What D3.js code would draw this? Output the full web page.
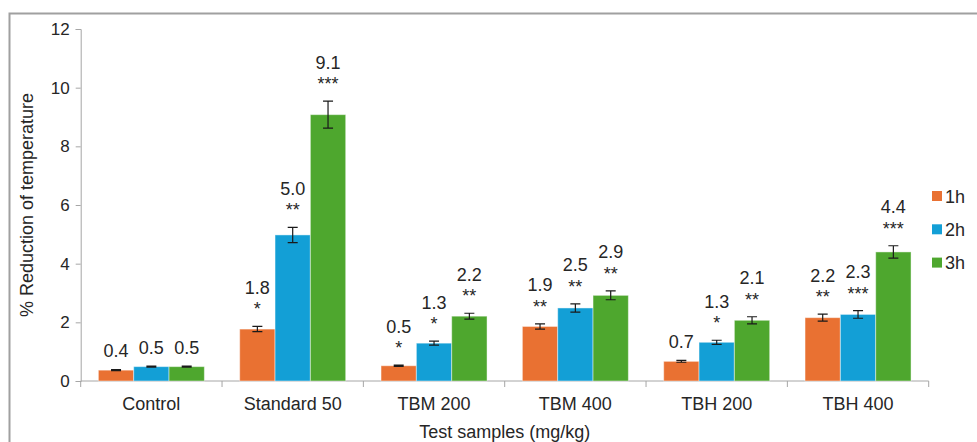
<!DOCTYPE html>
<html>
<head>
<meta charset="utf-8">
<script src="https://cdn.jsdelivr.net/npm/d3@7/dist/d3.min.js"></script>
<style>
  html, body { margin: 0; padding: 0; background: #fff; }
  svg { display: block; font-family: "Liberation Sans", Arial, sans-serif; }
</style>
</head>
<body>
<svg id="chart" width="977" height="442"></svg>
<script>
// Test groups and time points
const categories = ["Control", "Standard 50", "TBM 200", "TBM 400", "TBH 200", "TBH 400"];
const seriesNames = ["1h", "2h", "3h"];

// % reduction of temperature (mean) per time point
const values1h = [0.37, 1.77, 0.52, 1.86, 0.67, 2.16];
const values2h = [0.49, 4.98, 1.29, 2.49, 1.32, 2.27];
const values3h = [0.49, 9.08, 2.21, 2.92, 2.07, 4.40];

// Standard error
const err1h = [0.02, 0.09, 0.02, 0.09, 0.03, 0.12];
const err2h = [0.02, 0.26, 0.07, 0.14, 0.07, 0.13];
const err3h = [0.02, 0.46, 0.10, 0.15, 0.12, 0.21];

// Significance marks
const sig1h = ["", "*", "*", "**", "", "**"];
const sig2h = ["", "**", "*", "**", "*", "***"];
const sig3h = ["", "***", "**", "**", "**", "***"];

const yTicks = [0, 2, 4, 6, 8, 10, 12];
const colors = ["#E97132", "#139FD6", "#4EA72E"];

const valueSets = [values1h, values2h, values3h];
const errSets = [err1h, err2h, err3h];
const sigSets = [sig1h, sig2h, sig3h];

const svg = d3.select("#chart");
const textColor = "#262626";
const axisColor = "#A6A6A6";
const fmt = d3.format(".1f");

// outer frame
svg.append("rect")
  .attr("x", 9.5).attr("y", 13.5)
  .attr("width", 1000).attr("height", 500)
  .attr("fill", "none")
  .attr("stroke", "#A0A0A0")
  .attr("stroke-width", 2);

const plotLeft = 80.7, plotRight = 928.7, plotTop = 29, plotBottom = 381;

const x0 = d3.scaleBand().domain(categories).range([plotLeft, plotRight]).padding(0);
const groupW = x0.bandwidth() * 0.75;
const x1 = d3.scaleBand().domain(seriesNames).range([0, groupW]).padding(0);
const y = d3.scaleLinear().domain([0, 12]).range([plotBottom, plotTop]);

// y axis
const yAxis = svg.append("g").attr("transform", `translate(${plotLeft},0)`)
  .call(d3.axisLeft(y).tickValues(yTicks).tickSize(5).tickPadding(6).tickFormat(d3.format("d")));
yAxis.select(".domain").attr("stroke", axisColor);
yAxis.selectAll(".tick line").attr("stroke", axisColor);
yAxis.selectAll(".tick text").attr("fill", textColor).attr("font-size", 17)
  .attr("font-family", "Liberation Sans, Arial, sans-serif");

// x axis with category dividers
const xAxisG = svg.append("g").attr("transform", `translate(0,${plotBottom})`);
xAxisG.append("line").attr("x1", plotLeft).attr("x2", plotRight)
  .attr("y1", 0).attr("y2", 0).attr("stroke", axisColor);
const dividers = categories.map(c => x0(c)).concat([x0(categories[categories.length - 1]) + x0.bandwidth()]);
xAxisG.selectAll("line.div").data(dividers).join("line").attr("class", "div")
  .attr("x1", d => d).attr("x2", d => d).attr("y1", 0).attr("y2", 6)
  .attr("stroke", axisColor);
xAxisG.selectAll("text.cat").data(categories).join("text").attr("class", "cat")
  .attr("x", d => x0(d) + x0.bandwidth() / 2).attr("y", 29)
  .attr("text-anchor", "middle").attr("font-size", 18).attr("fill", textColor)
  .text(d => d);

// bars, error bars, labels
const groups = svg.append("g").selectAll("g").data(categories).join("g")
  .attr("transform", d => `translate(${x0(d) + (x0.bandwidth() - groupW) / 2},0)`);

seriesNames.forEach((s, si) => {
  const vals = valueSets[si], errs = errSets[si], sigs = sigSets[si];
  groups.append("rect")
    .attr("x", x1(s)).attr("width", x1.bandwidth())
    .attr("y", (d, i) => y(vals[i])).attr("height", (d, i) => plotBottom - y(vals[i]))
    .attr("fill", colors[si])
    .attr("stroke", "rgba(255,255,255,0.45)").attr("stroke-width", 1);

  const cx = x1(s) + x1.bandwidth() / 2;
  // error bar
  groups.append("path")
    .attr("d", (d, i) => {
      const t = y(vals[i] + errs[i]), b = y(vals[i] - errs[i]);
      return `M${cx - 5},${t}H${cx + 5}M${cx},${t}V${b}M${cx - 5},${b}H${cx + 5}`;
    })
    .attr("stroke", "#1a1a1a").attr("stroke-width", 1.2).attr("fill", "none");

  // significance stars
  groups.append("text")
    .attr("x", cx)
    .attr("y", (d, i) => y(vals[i] + errs[i]) - 21 + 10)
    .attr("text-anchor", "middle").attr("font-size", 18).attr("fill", textColor)
    .text((d, i) => sigs[i]);

  // value labels
  groups.append("text")
    .attr("x", cx)
    .attr("y", (d, i) => y(vals[i] + errs[i]) - (sigs[i] ? 39 : 19) + 6.5)
    .attr("text-anchor", "middle").attr("font-size", 18).attr("fill", textColor)
    .text((d, i) => fmt(vals[i]));
});

// axis titles
svg.append("text")
  .attr("transform", `translate(33,${(plotTop + plotBottom) / 2}) rotate(-90)`)
  .attr("text-anchor", "middle").attr("font-size", 18).attr("fill", textColor)
  .text("% Reduction of temperature");
svg.append("text")
  .attr("x", (plotLeft + plotRight) / 2).attr("y", 438)
  .attr("text-anchor", "middle").attr("font-size", 18).attr("fill", textColor)
  .text("Test samples (mg/kg)");

// legend
const legend = svg.append("g").selectAll("g").data(seriesNames).join("g")
  .attr("transform", (d, i) => `translate(932,${191 + i * 33.3})`);
legend.append("rect").attr("width", 10).attr("height", 10)
  .attr("fill", (d, i) => colors[i]);
legend.append("text").attr("x", 13).attr("y", 11.5)
  .attr("font-size", 18).attr("fill", textColor).text(d => d);
</script>
</body>
</html>
